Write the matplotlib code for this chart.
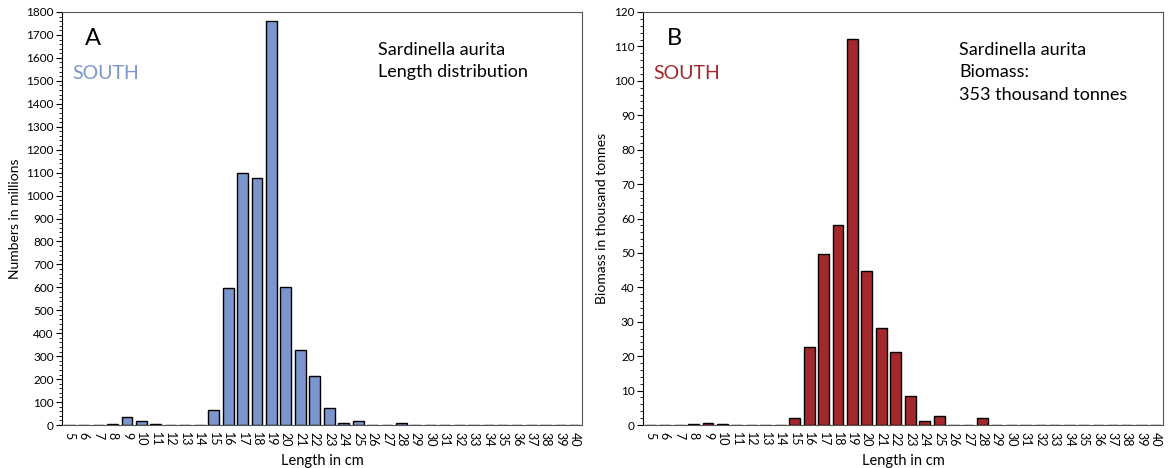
import matplotlib
matplotlib.use("Agg")
import matplotlib.pyplot as plt
from matplotlib.ticker import MultipleLocator

plt.rcParams.update({
    "font.family": ["Lato", "DejaVu Sans"],
    "font.size": 9,
})

# length classes (cm)
lengths = list(range(5, 41))

# numbers in millions per length class
numbers = [0, 0, 0, 5, 35, 17, 4, 0, 0, 0, 65, 597, 1097, 1077, 1760, 602,
           328, 213, 75, 10, 17, 0, 0, 8, 0, 0, 0, 0, 0, 0, 0, 0, 0, 0, 0, 0]

# biomass in thousand tonnes per length class
biomass = [0, 0, 0, 0.3, 0.5, 0.3, 0.1, 0, 0, 0, 2.0, 22.6, 49.8, 58.1, 112.1,
           44.8, 28.3, 21.1, 8.5, 1.2, 2.6, 0, 0, 1.9, 0, 0, 0, 0, 0, 0, 0, 0,
           0, 0, 0, 0]

blue = "#7b96cc"
red = "#a4282b"

fig = plt.figure(figsize=(11.68, 4.68), dpi=100)
ax_a = fig.add_axes([62 / 1168, 43 / 468, 520 / 1168, 413 / 468])
ax_b = fig.add_axes([643 / 1168, 43 / 468, 520 / 1168, 413 / 468])

panels = [
    (ax_a, numbers, blue, "A", "Numbers in millions", (0, 1800), 100,
     "Sardinella aurita\nLength distribution"),
    (ax_b, biomass, red, "B", "Biomass in thousand tonnes", (0, 120), 10,
     "Sardinella aurita\nBiomass:\n353 thousand tonnes"),
]

for ax, vals, color, letter, ylabel, ylim, major, note in panels:
    pos = range(len(lengths))
    ax.bar(pos, vals, width=0.75, color=color, edgecolor="black", linewidth=1.0)
    ax.set_xlim(-0.5, len(lengths) - 0.5)
    ax.set_ylim(*ylim)
    ax.set_xticks(list(pos))
    ax.set_xticklabels([str(v) for v in lengths], rotation=270, fontsize=9)
    ax.tick_params(axis="x", length=0, pad=5)
    ax.yaxis.set_major_locator(MultipleLocator(major))
    ax.yaxis.set_minor_locator(MultipleLocator(major / 5))
    ax.tick_params(axis="y", which="major", length=4, labelsize=8.5, pad=2)
    ax.tick_params(axis="y", which="minor", length=2)
    for side in ["top", "right", "bottom"]:
        ax.spines[side].set_color("#555555")
    ax.spines["left"].set_color("black")
    ax.set_ylabel(ylabel, fontsize=10, labelpad=4)
    ax.set_xlabel("Length in cm", fontsize=10.5, labelpad=5)

    ax.text(0.045, 0.935, letter, transform=ax.transAxes, fontsize=17,
            va="center", ha="left")
    ax.text(0.02, 0.85, "SOUTH", transform=ax.transAxes, fontsize=14,
            color=color, va="center", ha="left")
    ax.text(0.608, 0.928, note, transform=ax.transAxes, fontsize=13,
            va="top", ha="left", linespacing=1.52)

fig.savefig("out.png", dpi=100, facecolor="white")
